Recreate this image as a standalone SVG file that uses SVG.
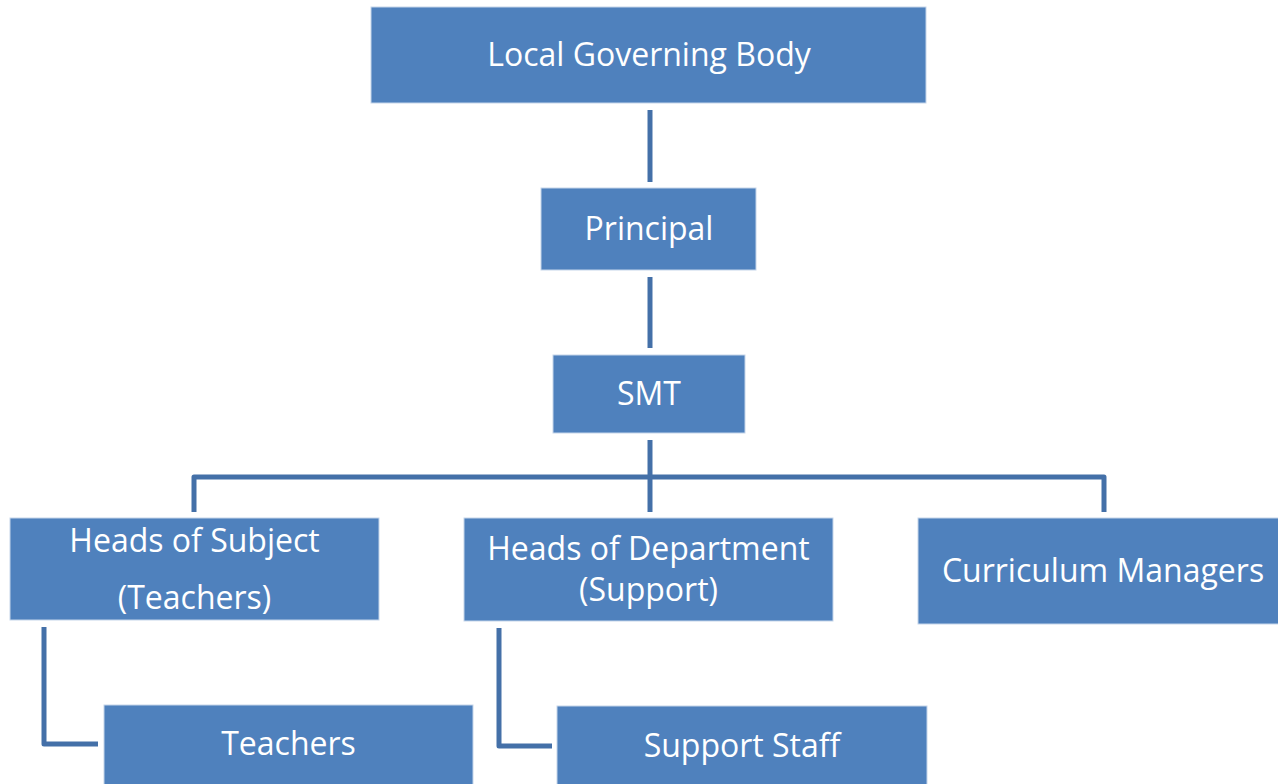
<svg xmlns="http://www.w3.org/2000/svg" width="1278" height="784" viewBox="0 0 1278 784">
<style>
.box{fill:#4F81BD;stroke:#C5D5EA;stroke-width:1}
.lbl{fill:#FFFFFF;font-family:"Open Sans","Liberation Sans",sans-serif;font-size:32px;text-anchor:middle;dominant-baseline:central}
.conn{fill:none;stroke:#4470A8;stroke-width:5;stroke-linejoin:round}
</style>
<rect width="1278" height="784" fill="#FFFFFF"/>
<g id="connectors">
<line class="conn" x1="650" y1="110" x2="650" y2="182"/>
<line class="conn" x1="650" y1="277" x2="650" y2="348"/>
<line class="conn" x1="650" y1="440" x2="650" y2="512"/>
<path class="conn" d="M194 512 V477 H1104 V512"/>
<path class="conn" d="M44 627 V744 H98"/>
<path class="conn" d="M499 628 V746 H552"/>
</g>
<g id="lgb"><rect class="box" x="371" y="7" width="555" height="96"/><text class="lbl" x="649" y="53">Local Governing Body</text></g>
<g id="principal"><rect class="box" x="541" y="188" width="215" height="82"/><text class="lbl" x="649" y="227">Principal</text></g>
<g id="smt"><rect class="box" x="553" y="355" width="192" height="78"/><text class="lbl" x="649" y="392">SMT</text></g>
<g id="hos"><rect class="box" x="10" y="518" width="369" height="102"/><text class="lbl" x="194.5" y="539">Heads of Subject</text><text class="lbl" x="194.5" y="596">(Teachers)</text></g>
<g id="hod"><rect class="box" x="464" y="518" width="369" height="103"/><text class="lbl" x="648.5" y="547">Heads of Department</text><text class="lbl" x="648.5" y="588">(Support)</text></g>
<g id="cm"><rect class="box" x="918" y="518" width="362" height="106"/><text class="lbl" x="1103" y="569">Curriculum Managers</text></g>
<g id="teachers"><rect class="box" x="104" y="705" width="369" height="82"/><text class="lbl" x="288.5" y="742">Teachers</text></g>
<g id="support"><rect class="box" x="557" y="706" width="370" height="82"/><text class="lbl" x="742" y="744">Support Staff</text></g>
</svg>
